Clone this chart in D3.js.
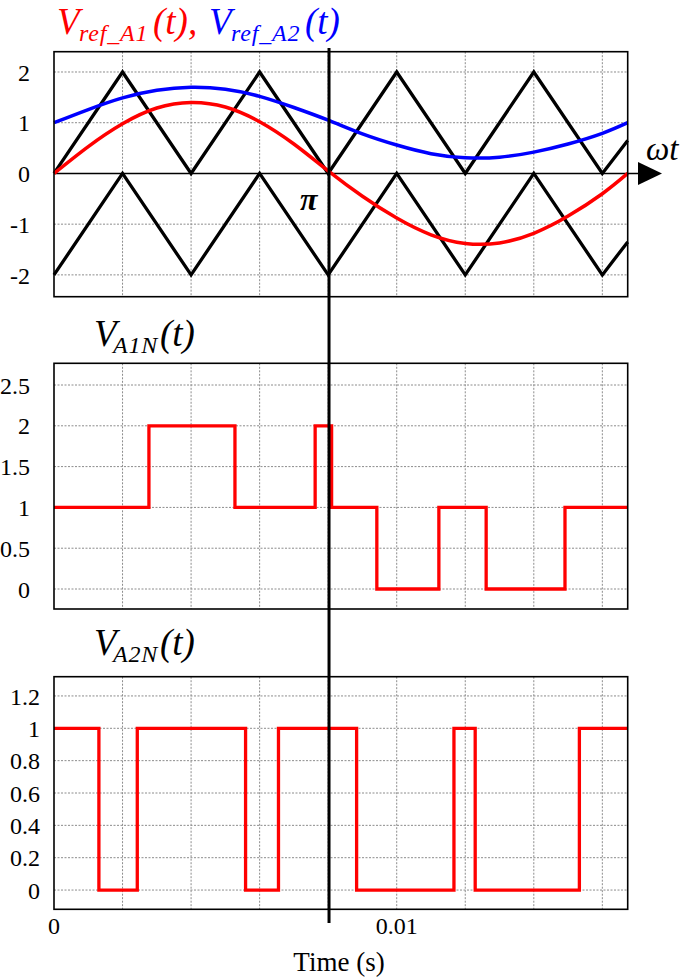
<!DOCTYPE html>
<html>
<head>
<meta charset="utf-8">
<script src="https://cdn.jsdelivr.net/npm/d3@7"></script>
<style>
  body { margin: 0; background: #fff; }
  svg, svg text { font-family: 'Liberation Serif', 'Times New Roman', serif; }
</style>
</head>
<body>
<svg id="chart" width="685" height="980"></svg>
<script>
// time samples (s)
var sampleT = [0, 0.001, 0.002, 0.003, 0.004, 0.005, 0.006, 0.007, 0.008, 0.009,
               0.010, 0.011, 0.012, 0.013, 0.014, 0.015, 0.016, 0.01674];
var vrefA1 = [0, 0.53, 0.98, 1.29, 1.40, 1.31, 1.02, 0.58, 0.05, -0.45,
              -0.88, -1.21, -1.38, -1.37, -1.18, -0.84, -0.40, 0];
var vrefA2 = [1.0, 1.26, 1.49, 1.64, 1.70, 1.66, 1.52, 1.30, 1.05, 0.78,
              0.56, 0.39, 0.31, 0.32, 0.42, 0.58, 0.79, 1.0];

// triangular carriers (vertices)
var carrierT = [0, 0.002, 0.004, 0.006, 0.008, 0.010, 0.012, 0.014, 0.016, 0.01674];
var carrierUpper = [0, 2, 0, 2, 0, 2, 0, 2, 0, 0.65];
var carrierLower = [-2, 0, -2, 0, -2, 0, -2, 0, -2, -1.35];

// output voltages (step changes)
var va1nT = [0, 0.00277, 0.00528, 0.00762, 0.0081, 0.00942, 0.01123, 0.01261, 0.01491, 0.01674];
var va1nV = [1, 2, 1, 2, 1, 0, 1, 0, 1, 1];
var va2nT = [0, 0.00131, 0.00243, 0.00559, 0.00655, 0.00883, 0.01167, 0.01229, 0.01533, 0.01674];
var va2nV = [1, 0, 1, 0, 1, 0, 1, 0, 1, 1];

var xGrid = [0.002, 0.004, 0.006, 0.008, 0.010, 0.012, 0.014, 0.016];
var xTicks = [0, 0.01];
var xTickLabels = ['0', '0.01'];
var piTime = 0.008025;

var yTicks1 = [-2, -1, 0, 1, 2];
var yTicks2 = [0, 0.5, 1, 1.5, 2, 2.5];
var yTicks3 = [0, 0.2, 0.4, 0.6, 0.8, 1, 1.2];

var RED = '#ff0000';
var BLUE = '#0000ff';
var SERIF = "'Liberation Serif', 'Times New Roman', serif";

var svg = d3.select('#chart');
var x = d3.scaleLinear().domain([0, 0.01674]).range([54, 627.7]);

function zip(ts, vs) { return ts.map((t, i) => ({t: t, v: vs[i]})); }

function panel(cfg) {
    var y = d3.scaleLinear().domain(cfg.domain).range([cfg.bottom, cfg.top]);
    var g = svg.append('g');

    // dotted grid
    g.selectAll('line.hg')
      .data(cfg.ticks.filter(d => cfg.solidZero ? d !== 0 : true))
      .enter().append('line')
      .attr('x1', x.range()[0]).attr('x2', x.range()[1])
      .attr('y1', d => y(d)).attr('y2', d => y(d))
      .attr('stroke', '#8c8c8c').attr('stroke-width', 1)
      .attr('stroke-dasharray', '2,1.5');
    g.selectAll('line.vg')
      .data(xGrid).enter().append('line')
      .attr('x1', d => x(d)).attr('x2', d => x(d))
      .attr('y1', cfg.top).attr('y2', cfg.bottom)
      .attr('stroke', '#8c8c8c').attr('stroke-width', 1)
      .attr('stroke-dasharray', '2,1.5');

    // y axis labels
    var ax = g.append('g')
      .attr('transform', 'translate(' + x.range()[0] + ',0)')
      .call(d3.axisLeft(y).tickValues(cfg.ticks).tickSize(0)
            .tickPadding(cfg.pad).tickFormat(d => String(d)));
    ax.attr('font-family', SERIF);
    ax.select('.domain').remove();
    ax.selectAll('text')
      .attr('font-family', SERIF)
      .attr('font-size', 24).attr('fill', '#000').attr('dy', '0.34em');

    cfg.draw(g, y);

    // frame
    g.append('rect')
      .attr('x', x.range()[0]).attr('y', cfg.top)
      .attr('width', x.range()[1] - x.range()[0]).attr('height', cfg.bottom - cfg.top)
      .attr('fill', 'none').attr('stroke', '#000').attr('stroke-width', 1.6);
    return y;
}

// ---- panel 1: references and carriers
panel({
    domain: [-2.43, 2.4], top: 51.7, bottom: 296.7, ticks: yTicks1, pad: 24, solidZero: true,
    draw: function (g, y) {
        var lineT = d3.line().x(d => x(d.t)).y(d => y(d.v));
        var lineS = d3.line().x(d => x(d.t)).y(d => y(d.v)).curve(d3.curveNatural);
        // zero axis with arrow
        g.append('line')
          .attr('x1', x.range()[0]).attr('x2', 640)
          .attr('y1', y(0)).attr('y2', y(0))
          .attr('stroke', '#000').attr('stroke-width', 1.6);
        g.append('path')
          .attr('d', 'M638,' + (y(0) - 11.5) + 'L662,' + y(0) + 'L638,' + (y(0) + 11.5) + 'Z')
          .attr('fill', '#000');
        g.append('path').datum(zip(carrierT, carrierUpper))
          .attr('d', lineT).attr('fill', 'none').attr('stroke', '#000').attr('stroke-width', 3.3);
        g.append('path').datum(zip(carrierT, carrierLower))
          .attr('d', lineT).attr('fill', 'none').attr('stroke', '#000').attr('stroke-width', 3.3);
        g.append('path').datum(zip(sampleT, vrefA2))
          .attr('d', lineS).attr('fill', 'none').attr('stroke', BLUE).attr('stroke-width', 3.5);
        g.append('path').datum(zip(sampleT, vrefA1))
          .attr('d', lineS).attr('fill', 'none').attr('stroke', RED).attr('stroke-width', 3.5);
    }
});

// ---- panel 2: VA1N
panel({
    domain: [-0.245, 2.766], top: 363.3, bottom: 609, ticks: yTicks2, pad: 24,
    draw: function (g, y) {
        var line = d3.line().x(d => x(d.t)).y(d => y(d.v)).curve(d3.curveStepAfter);
        g.append('path').datum(zip(va1nT, va1nV))
          .attr('d', line).attr('fill', 'none').attr('stroke', RED).attr('stroke-width', 3.3);
    }
});

// ---- panel 3: VA2N
panel({
    domain: [-0.119, 1.319], top: 676.7, bottom: 909.3, ticks: yTicks3, pad: 14,
    draw: function (g, y) {
        var line = d3.line().x(d => x(d.t)).y(d => y(d.v)).curve(d3.curveStepAfter);
        g.append('path').datum(zip(va2nT, va2nV))
          .attr('d', line).attr('fill', 'none').attr('stroke', RED).attr('stroke-width', 3.3);
    }
});

// x tick labels and title
svg.selectAll('text.xt')
  .data(xTicks).enter().append('text')
  .attr('x', d => x(d)).attr('y', 934)
  .attr('text-anchor', 'middle').attr('font-size', 24).attr('font-family', SERIF)
  .text((d, i) => xTickLabels[i]);
svg.append('text')
  .attr('x', 339).attr('y', 971).attr('text-anchor', 'middle')
  .attr('font-size', 27).attr('font-family', SERIF).text('Time (s)');

// vertical marker line at pi
svg.append('line')
  .attr('x1', x(piTime)).attr('x2', x(piTime))
  .attr('y1', 48).attr('y2', 923)
  .attr('stroke', '#000').attr('stroke-width', 3);

// labels
svg.append('text').attr('x', 300).attr('y', 210)
  .attr('font-size', 32).attr('font-style', 'italic').attr('font-weight', 'bold')
  .attr('font-family', SERIF).text('π');
svg.append('text').attr('x', 646).attr('y', 160)
  .attr('font-size', 33).attr('font-style', 'italic').attr('font-family', SERIF)
  .text('ωt');

function title(parts, yBase) {
    var t = svg.append('text').attr('y', yBase).attr('font-style', 'italic')
      .attr('font-family', SERIF);
    parts.forEach(function (p) {
        t.append('tspan')
          .attr('x', p.x).attr('y', yBase + (p.sub ? 7 : 0))
          .attr('font-size', p.sub ? 24 : 37)
          .attr('fill', p.color)
          .attr('letter-spacing', p.sub ? 0.8 : 0)
          .text(p.s);
    });
}

title([
    {s: 'V', x: 57, color: RED},
    {s: 'ref_A1', x: 79, sub: true, color: RED},
    {s: '(t),', x: 153, color: RED},
    {s: 'V', x: 209, color: BLUE},
    {s: 'ref_A2', x: 231, sub: true, color: BLUE},
    {s: '(t)', x: 305, color: BLUE}
], 34);
title([
    {s: 'V', x: 94, color: '#000'},
    {s: 'A1N', x: 113, sub: true, color: '#000'},
    {s: '(t)', x: 160, color: '#000'}
], 346);
title([
    {s: 'V', x: 94, color: '#000'},
    {s: 'A2N', x: 113, sub: true, color: '#000'},
    {s: '(t)', x: 160, color: '#000'}
], 655);
</script>
</body>
</html>
